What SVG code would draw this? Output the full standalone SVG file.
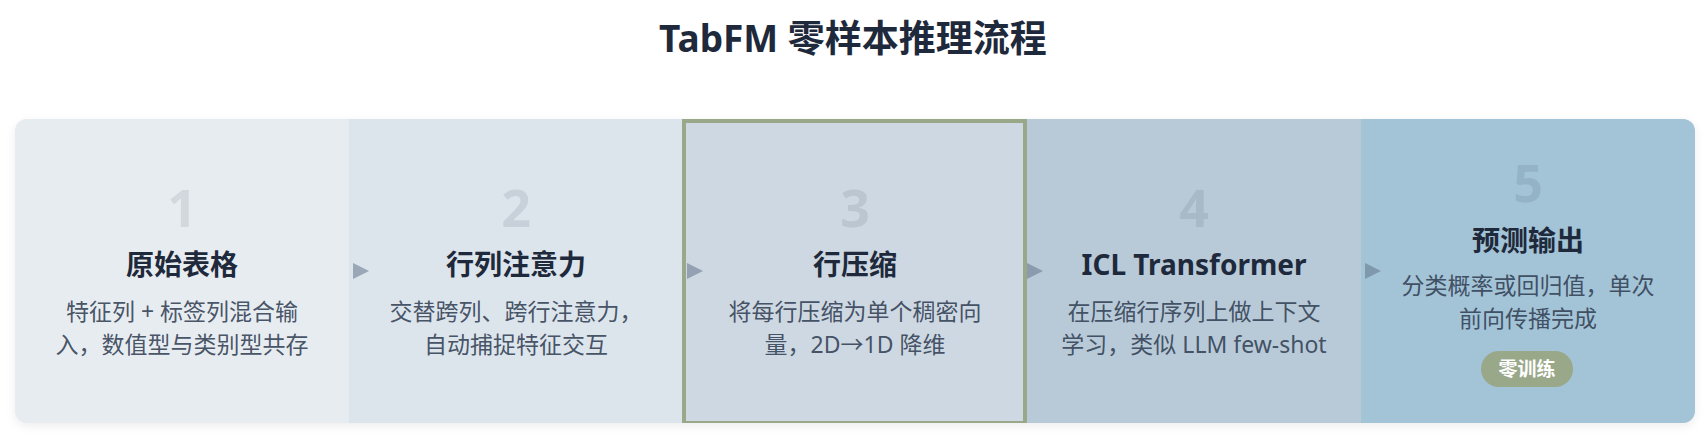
<svg xmlns="http://www.w3.org/2000/svg" width="1706" height="434" viewBox="0 0 1706 434">
<defs>
<style>
.t{font-family:"Noto Sans","Noto Sans CJK SC",sans-serif;text-anchor:middle}
.h{font-size:37px;font-weight:700;fill:#1e293b}
.num{font-size:52px;font-weight:700;fill:#1e293b;fill-opacity:0.1}
.ttl{font-size:28px;font-weight:700;fill:#1e293b}
.d{font-size:23px;fill:#334155;fill-opacity:0.9}
.badge{font-size:19px;font-weight:700;fill:#ffffff}
.arr{fill:#64748b;fill-opacity:0.55}
</style>
<clipPath id="cc"><rect x="15" y="119" width="1680" height="304" rx="12"/></clipPath>
<filter id="sh" x="-5%" y="-20%" width="110%" height="140%"><feDropShadow dx="0" dy="3" stdDeviation="5" flood-color="#0f172a" flood-opacity="0.07"/></filter>
</defs>
<rect width="1706" height="434" fill="#ffffff"/>
<text class="t h" x="853" y="52">TabFM 零样本推理流程</text>
<rect x="15" y="119" width="1680" height="304" rx="12" fill="#e8edf1" filter="url(#sh)"/>
<g clip-path="url(#cc)">
<g id="step1">
<rect x="15" y="119" width="334" height="304" fill="#e7ecf0"/>
<text class="t num" x="182" y="227">1</text>
<text class="t ttl" x="182" y="275">原始表格</text>
<text class="t d" x="182" y="320">特征列 + 标签列混合输</text>
<text class="t d" x="182" y="353">入，数值型与类别型共存</text>
</g>
<g id="step2">
<rect x="349" y="119" width="333" height="304" fill="#dce4ec"/>
<text class="t num" x="516" y="227">2</text>
<text class="t ttl" x="516" y="275">行列注意力</text>
<text class="t d" x="516" y="320">交替跨列、跨行注意力，</text>
<text class="t d" x="516" y="353">自动捕捉特征交互</text>
</g>
<g id="step3">
<rect x="682" y="119" width="345" height="304" fill="#cdd8e2"/>
<rect x="684" y="121" width="341" height="302" fill="none" stroke="#9aa88a" stroke-width="4"/>
<text class="t num" x="855" y="227">3</text>
<text class="t ttl" x="855" y="275">行压缩</text>
<text class="t d" x="855" y="320">将每行压缩为单个稠密向</text>
<text class="t d" x="855" y="353">量，2D→1D 降维</text>
</g>
<g id="step4">
<rect x="1027" y="119" width="334" height="304" fill="#b8cad8"/>
<text class="t num" x="1194" y="227">4</text>
<text class="t ttl" x="1194" y="275">ICL Transformer</text>
<text class="t d" x="1194" y="320">在压缩行序列上做上下文</text>
<text class="t d" x="1194" y="353">学习，类似 LLM few-shot</text>
</g>
<g id="step5">
<rect x="1361" y="119" width="334" height="304" fill="#a3c3d6"/>
<text class="t num" x="1528" y="202">5</text>
<text class="t ttl" x="1528" y="251">预测输出</text>
<text class="t d" x="1528" y="294">分类概率或回归值，单次</text>
<text class="t d" x="1528" y="327">前向传播完成</text>
<rect x="1481" y="351" width="92" height="36" rx="18" fill="#9aa88a"/>
<text class="t badge" x="1527" y="376">零训练</text>
</g>
</g>
<g id="connectors">
<path class="arr" d="M353 263 L369 271 L353 279 Z"/>
<path class="arr" d="M687 263 L703 271 L687 279 Z"/>
<path class="arr" d="M1027 263 L1043 271 L1027 279 Z"/>
<path class="arr" d="M1365 263 L1381 271 L1365 279 Z"/>
</g>
</svg>
